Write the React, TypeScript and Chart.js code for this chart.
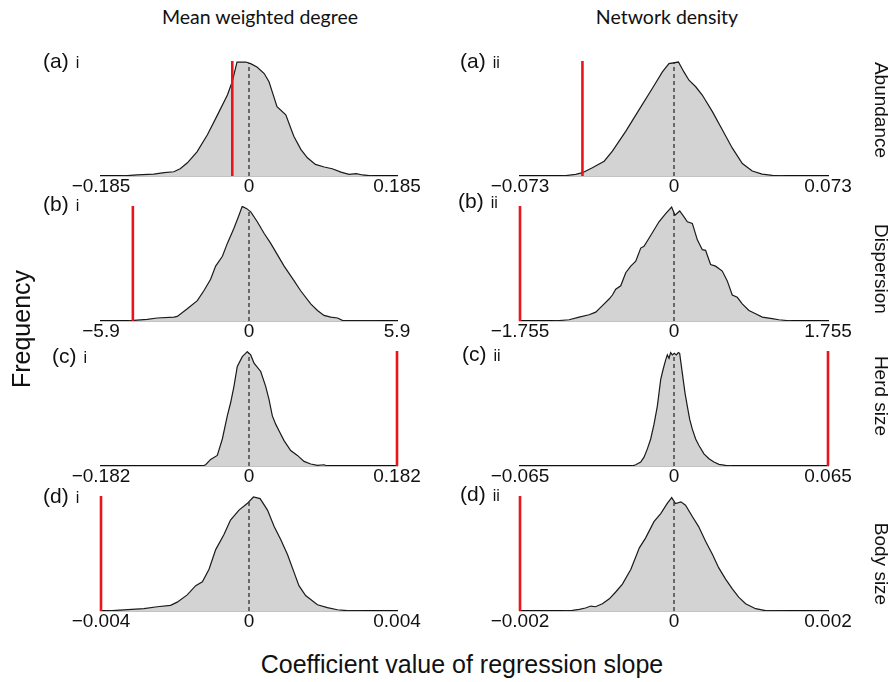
import React, { useEffect, useRef } from "react";
import { Chart, registerables } from "chart.js";
Chart.register(...registerables);

// ---------- data ----------
const colTitles = ["Mean weighted degree", "Network density"];
const rowTitles = ["Abundance", "Dispersion", "Herd size", "Body size"];
const rowLetters = ["(a)", "(b)", "(c)", "(d)"];
const colNumerals = ["i", "ii"];

// axis half-ranges (per row, per column)
const limitsMWD = [0.185, 5.9, 0.182, 0.004];
const limitsND = [0.073, 1.755, 0.065, 0.002];
const tickLabelsMWD = [
  ["\u22120.185", "0", "0.185"],
  ["\u22125.9", "0", "5.9"],
  ["\u22120.182", "0", "0.182"],
  ["\u22120.004", "0", "0.004"],
];
const tickLabelsND = [
  ["\u22120.073", "0", "0.073"],
  ["\u22121.755", "0", "1.755"],
  ["\u22120.065", "0", "0.065"],
  ["\u22120.002", "0", "0.002"],
];
// observed coefficient (red line)
const observedMWD = [-0.0209, -4.63, 0.182, -0.004];
const observedND = [-0.0434, -1.755, 0.065, -0.002];

// null-distribution densities (relative frequency, peak ~ 1)
const aiX = [-0.161, -0.14, -0.119, -0.106, -0.094, -0.086, -0.077, -0.065, -0.052, -0.04, -0.027, -0.021, -0.015, -0.004, 0.002, 0.01, 0.019, 0.025, 0.031, 0.035, 0.046, 0.056, 0.065, 0.073, 0.083, 0.094, 0.104, 0.115, 0.125, 0.134, 0.142, 0.156];
const aiY = [0, 0.009, 0.017, 0.029, 0.037, 0.063, 0.115, 0.21, 0.359, 0.523, 0.704, 0.819, 0.991, 0.991, 0.977, 0.948, 0.891, 0.819, 0.69, 0.603, 0.532, 0.345, 0.23, 0.158, 0.101, 0.078, 0.063, 0.034, 0.014, 0.02, 0.009, 0];

const aiiX = [-0.0532, -0.0466, -0.0434, -0.0387, -0.0331, -0.0292, -0.0229, -0.0166, -0.0103, -0.0055, -0.0024, 0.0021, 0.0047, 0.0071, 0.0103, 0.0134, 0.0182, 0.0229, 0.0276, 0.0324, 0.0371, 0.0418, 0.0466, 0.0529];
const aiiY = [0, 0.014, 0.029, 0.072, 0.129, 0.216, 0.388, 0.575, 0.761, 0.905, 0.977, 0.991, 0.905, 0.833, 0.776, 0.704, 0.56, 0.402, 0.244, 0.109, 0.043, 0.017, 0.006, 0];

const biX = [-4.86, -4.59, -4.06, -3.66, -2.99, -2.86, -2.46, -2.06, -1.8, -1.53, -1.33, -1.06, -0.86, -0.6, -0.4, -0.27, -0.09, 0.07, 0.33, 0.6, 0.86, 1.13, 1.4, 1.8, 2.06, 2.46, 2.73, 2.99, 3.26, 3.53, 3.72, 4.32, 5.25];
const biY = [0, 0.006, 0.014, 0.026, 0.034, 0.04, 0.106, 0.177, 0.263, 0.363, 0.477, 0.563, 0.677, 0.806, 0.92, 0.997, 0.977, 0.949, 0.863, 0.763, 0.677, 0.577, 0.477, 0.349, 0.263, 0.149, 0.091, 0.049, 0.034, 0.026, 0.006, 0.003, 0];

const biiX = [-1.385, -1.195, -1.081, -0.968, -0.892, -0.816, -0.74, -0.702, -0.664, -0.607, -0.55, -0.493, -0.436, -0.379, -0.342, -0.285, -0.228, -0.171, -0.095, -0.027, 0.011, 0.065, 0.114, 0.152, 0.209, 0.266, 0.323, 0.36, 0.417, 0.474, 0.55, 0.607, 0.664, 0.721, 0.778, 0.854, 0.93, 1.006, 1.119, 1.195, 1.347];
const biiY = [0, 0.011, 0.034, 0.054, 0.077, 0.134, 0.191, 0.226, 0.277, 0.306, 0.42, 0.477, 0.52, 0.634, 0.649, 0.72, 0.791, 0.863, 0.934, 0.991, 0.92, 0.957, 0.906, 0.863, 0.849, 0.706, 0.62, 0.614, 0.491, 0.477, 0.434, 0.349, 0.226, 0.206, 0.149, 0.091, 0.063, 0.034, 0.02, 0.011, 0];

const ciX = [-0.0575, -0.0533, -0.0472, -0.039, -0.0328, -0.0267, -0.0226, -0.0185, -0.0144, -0.0082, -0.0021, 0.0021, 0.0062, 0.0144, 0.0205, 0.0246, 0.0287, 0.0328, 0.0369, 0.0431, 0.0513, 0.0595, 0.0677, 0.0759, 0.0841, 0.0923, 0.0964];
const ciY = [0, 0.011, 0.057, 0.092, 0.235, 0.436, 0.55, 0.693, 0.865, 0.951, 0.994, 0.966, 0.894, 0.822, 0.693, 0.579, 0.436, 0.364, 0.307, 0.221, 0.135, 0.092, 0.04, 0.017, 0.006, 0.011, 0];

const ciiX = [-0.01785, -0.01616, -0.01405, -0.01265, -0.01124, -0.00984, -0.00843, -0.00703, -0.00562, -0.00464, -0.00351, -0.00281, -0.00211, -0.00141, -0.0007, 0.00014, 0.00098, 0.00183, 0.00239, 0.00351, 0.00464, 0.00562, 0.00661, 0.00773, 0.00914, 0.01054, 0.01265, 0.01476, 0.01686, 0.01897, 0.02178, 0.02459];
const ciiY = [0, 0.011, 0.034, 0.077, 0.149, 0.235, 0.364, 0.521, 0.751, 0.837, 0.923, 0.966, 0.937, 0.986, 0.966, 0.98, 0.966, 0.986, 0.98, 0.808, 0.636, 0.521, 0.407, 0.321, 0.235, 0.178, 0.106, 0.063, 0.034, 0.014, 0.006, 0];

const diX = [-0.00392, -0.00338, -0.00284, -0.00248, -0.00212, -0.00194, -0.00167, -0.00144, -0.00126, -0.00108, -0.0009, -0.00068, -0.0005, -0.00027, -0.00005, 0.00012, 0.0003, 0.0005, 0.00068, 0.00086, 0.00104, 0.00122, 0.00135, 0.00153, 0.00185, 0.00212, 0.00239, 0.00266, 0.00311];
const diY = [0, 0.009, 0.02, 0.037, 0.049, 0.077, 0.14, 0.22, 0.254, 0.363, 0.534, 0.663, 0.791, 0.877, 0.934, 0.991, 0.977, 0.877, 0.734, 0.62, 0.491, 0.334, 0.22, 0.134, 0.054, 0.029, 0.011, 0.003, 0];

const diiX = [-0.00145, -0.00132, -0.00123, -0.00115, -0.00108, -0.00102, -0.00093, -0.00084, -0.00076, -0.00067, -0.00056, -0.00045, -0.00037, -0.00026, -0.00017, -0.00009, -0.00003, 0.00002, 0.00009, 0.00015, 0.00024, 0.00032, 0.00041, 0.0005, 0.00058, 0.00067, 0.00076, 0.00084, 0.00093, 0.00106, 0.00119, 0.00149];
const diiY = [0, 0.006, 0.014, 0.026, 0.043, 0.037, 0.063, 0.106, 0.163, 0.234, 0.363, 0.549, 0.634, 0.777, 0.849, 0.934, 0.986, 0.934, 0.949, 0.92, 0.82, 0.734, 0.606, 0.491, 0.377, 0.277, 0.191, 0.12, 0.063, 0.02, 0.003, 0];

const curvesMWD = [[aiX, aiY], [biX, biY], [ciX, ciY], [diX, diY]];
const curvesND = [[aiiX, aiiY], [biiX, biiY], [ciiX, ciiY], [diiX, diiY]];

// ---------- layout ----------
const FONT = "'Liberation Sans', Arial, Helvetica, sans-serif";
const colArea = [
  { left: 101, right: 397 },
  { left: 520, right: 828 },
];
const rowTop = [61, 206, 351, 496];
const PLOT_H = 116;
const PAD_X = 50;
const PAD_TOP = 5;
const PAD_BOTTOM = 5;
const TICK_PAD = 1;
const AXIS_H = 19 + TICK_PAD;

const letterPos = [
  [{ l: 43, t: 50 }, { l: 460, t: 49.5 }],
  [{ l: 43, t: 193 }, { l: 458, t: 189.5 }],
  [{ l: 52, t: 345 }, { l: 462, t: 343 }],
  [{ l: 43, t: 484.5 }, { l: 460, t: 483 }],
];
const rowTitleY = [110, 269, 396, 564];

function valueAt(xs: number[], ys: number[], x0: number) {
  for (let i = 0; i < xs.length - 1; i++) {
    if (xs[i] <= x0 && xs[i + 1] >= x0) {
      const t = (x0 - xs[i]) / (xs[i + 1] - xs[i]);
      return ys[i] + t * (ys[i + 1] - ys[i]);
    }
  }
  return 0;
}

function Panel({ row, col }: { row: number; col: number }) {
  const ref = useRef<HTMLCanvasElement>(null);
  const area = colArea[col];
  const width = area.right - area.left + 2 * PAD_X;
  const height = PAD_TOP + PLOT_H + AXIS_H + PAD_BOTTOM;
  const left = area.left - PAD_X;
  const top = rowTop[row] - PAD_TOP;

  useEffect(() => {
    const lim = col === 0 ? limitsMWD[row] : limitsND[row];
    const labels = col === 0 ? tickLabelsMWD[row] : tickLabelsND[row];
    const obs = col === 0 ? observedMWD[row] : observedND[row];
    const [xs, ys] = col === 0 ? curvesMWD[row] : curvesND[row];
    const zeroTop = valueAt(xs, ys, 0);
    const chart = new Chart(ref.current as HTMLCanvasElement, {
      type: "line",
      data: {
        datasets: [
          {
            data: [
              { x: obs, y: 0 },
              { x: obs, y: 1 },
            ],
            borderColor: "#e8151b",
            borderWidth: 2.6,
            pointRadius: 0,
            fill: false,
            clip: false as any,
          },
          {
            data: [
              { x: 0, y: 0 },
              { x: 0, y: zeroTop },
            ],
            borderColor: "#222",
            borderWidth: 1.2,
            borderDash: [4, 3],
            pointRadius: 0,
            fill: false,
          },
          {
            data: xs.map((x, i) => ({ x, y: ys[i] })),
            borderColor: "#1a1a1a",
            borderWidth: 1.2,
            backgroundColor: "#d3d3d3",
            pointRadius: 0,
            tension: 0,
            fill: "origin",
          },
        ],
      },
      options: {
        animation: false,
        responsive: false,
        maintainAspectRatio: false,
        events: [],
        layout: { padding: { left: PAD_X, right: PAD_X, top: PAD_TOP, bottom: PAD_BOTTOM } },
        plugins: { legend: { display: false }, tooltip: { enabled: false } },
        scales: {
          x: {
            type: "linear",
            min: -lim,
            max: lim,
            grid: { display: false, drawTicks: false },
            border: { display: true, color: "#111", width: 1.2 },
            afterBuildTicks: (axis: any) => {
              axis.ticks = [-lim, 0, lim].map((v) => ({ value: v }));
            },
            ticks: {
              autoSkip: false,
              maxRotation: 0,
              minRotation: 0,
              padding: TICK_PAD,
              color: "#111",
              font: { family: FONT, size: 19, lineHeight: 1 },
              callback: (_v: any, i: number) => labels[i],
            },
          },
          y: { type: "linear", min: 0, max: 1, display: false },
        },
      } as any,
    });
    return () => chart.destroy();
  }, [row, col]);

  return (
    <canvas
      ref={ref}
      width={width}
      height={height}
      style={{ position: "absolute", left, top, width, height }}
    />
  );
}

export default function App() {
  const rows = [0, 1, 2, 3];
  const headerStyle = {
    position: "absolute" as const,
    top: 7,
    transform: "translateX(-50%)",
    fontFamily: "Lato, 'Open Sans', sans-serif",
    fontSize: 19.5,
    lineHeight: 1,
    whiteSpace: "nowrap" as const,
  };
  return (
    <div
      style={{
        position: "absolute",
        left: 0,
        top: 0,
        width: 894,
        height: 682,
        background: "#fff",
        overflow: "hidden",
        fontFamily: FONT,
        color: "#111",
      }}
    >
      {/* column headers */}
      <div style={{ ...headerStyle, left: 260 }}>{colTitles[0]}</div>
      <div style={{ ...headerStyle, left: 667 }}>{colTitles[1]}</div>

      {rows.map((r) => [0, 1].map((c) => <Panel key={`p${r}${c}`} row={r} col={c} />))}

      {rows.map((r) =>
        [0, 1].map((c) => (
          <div
            key={`l${r}${c}`}
            style={{ position: "absolute", left: letterPos[r][c].l, top: letterPos[r][c].t, fontSize: 21, lineHeight: 1, whiteSpace: "nowrap" }}
          >
            {rowLetters[r]}
            <span style={{ fontSize: 16, marginLeft: 7 }}>{colNumerals[c]}</span>
          </div>
        ))
      )}

      {rows.map((r) => (
        <div
          key={`r${r}`}
          style={{ position: "absolute", left: 881, top: rowTitleY[r], transform: "translate(-50%, -50%) rotate(90deg)", fontSize: 19, lineHeight: 1, whiteSpace: "nowrap" }}
        >
          {rowTitles[r]}
        </div>
      ))}

      <div style={{ position: "absolute", left: 21, top: 329, transform: "translate(-50%, -50%) rotate(-90deg)", fontSize: 25, lineHeight: 1, whiteSpace: "nowrap" }}>
        Frequency
      </div>
      <div style={{ position: "absolute", left: 462, top: 652, transform: "translateX(-50%)", fontSize: 25, lineHeight: 1, whiteSpace: "nowrap" }}>
        Coefficient value of regression slope
      </div>
    </div>
  );
}
